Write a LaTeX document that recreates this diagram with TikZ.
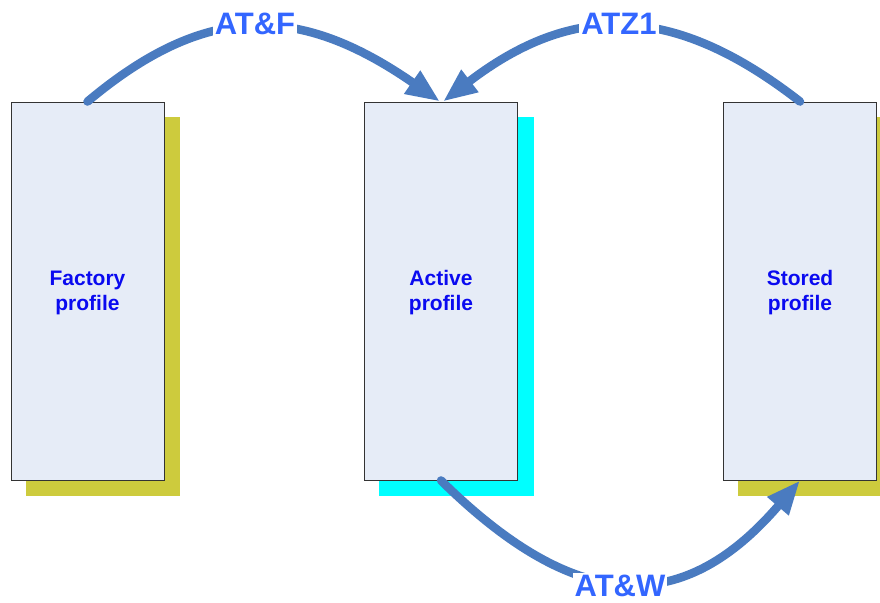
\documentclass[tikz,border=0pt]{standalone}
\usepackage{fontspec}
\setmainfont{Liberation Sans}
\usetikzlibrary{arrows.meta,calc}
\definecolor{boxfill}{HTML}{E6ECF7}
\definecolor{olive}{HTML}{CDCB3D}
\definecolor{aqua}{HTML}{00FFFF}
\definecolor{boxtext}{HTML}{0A0AF0}
\definecolor{labtext}{HTML}{3366FF}
\definecolor{arrowc}{HTML}{4A7BC0}
\begin{document}
\begin{tikzpicture}[x=1pt,y=-1pt,
  profilebox/.style={draw=black!80,line width=0.9pt,fill=boxfill,minimum width=153pt,minimum height=378pt,inner sep=0pt},
  profiletext/.style={font=\bfseries\fontsize{21}{25}\selectfont,text=boxtext,align=center,yshift=-2pt},
  conn/.style={draw=arrowc,line width=8.5pt,line cap=round,-{Triangle[length=34pt,width=26pt]}},
  cmdlabel/.style={fill=white,inner sep=2pt,font=\bfseries\fontsize{31}{31}\selectfont,text=labtext}]
\useasboundingbox (0,0) rectangle (880,602);
\fill[white] (0,0) rectangle (880,602);
% shadows
\fill[olive] (26,117) rectangle (180,496);
\fill[aqua] (379,117) rectangle (534,496);
\fill[olive] (738,117) rectangle (880,496);
% boxes
\node[profilebox,label={[profiletext]center:Factory\\profile}] (fac) at (87.5,291) {};
\node[profilebox,label={[profiletext]center:Active\\profile}] (act) at (441,291) {};
\node[profilebox,label={[profiletext]center:Stored\\profile}] (sto) at (800,291) {};
% connectors
\draw[conn] (fac.north) .. controls +(118,-99) and +(-141,-98) .. ([xshift=-1pt]act.north);
\draw[conn] (sto.north) .. controls +(-127,-99) and +(129,-99) .. ([xshift=2pt]act.north);
\draw[conn] (act.south) .. controls +(140,138) and +(-114,133) .. (sto.south);
% labels
\node[cmdlabel] (lf) at (255,24) {AT\&F};
\node[cmdlabel] (lz) at (619,24) {ATZ1};
\node[cmdlabel] (lw) at (620,586) {AT\&W};
\end{tikzpicture}
\end{document}
